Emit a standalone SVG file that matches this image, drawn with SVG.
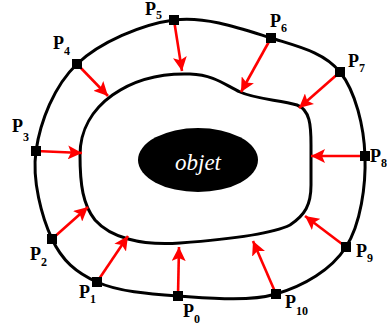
<svg xmlns="http://www.w3.org/2000/svg" width="387" height="329" viewBox="0 0 387 329">
<style>
.curve{fill:none;stroke:#000;stroke-width:3}
.arr{stroke:#ff0000;stroke-width:2.6;fill:none;marker-end:url(#ah)}
.pt{fill:#000}
.lbl{font-family:"Liberation Serif","Times New Roman",serif;font-weight:bold;font-size:18px;fill:#000}
.sub{font-size:12px}
.obj{font-family:"Liberation Serif","Times New Roman",serif;font-style:italic;font-size:23px;fill:#fff}
</style>
<defs>
<marker id="ah" markerUnits="userSpaceOnUse" markerWidth="16" markerHeight="14" refX="14" refY="7" orient="auto">
<path d="M0,0 L14,7 L0,14 L3,7 Z" fill="#ff0000"/>
</marker>
</defs>
<g id="outer">
<path class="curve" d="M178,296 C207.8,298 248,302.2 276,294 C304,285.8 331.2,270 346,247 C360.8,224 366,185.2 365,156 C364,126.8 355.7,91.7 340,72 C324.3,52.3 298.7,46.7 271,38 C243.3,29.3 206.3,15.7 174,20 C141.7,24.3 100,42.2 77,64 C54,85.8 40.2,121.8 36,151 C31.8,180.2 41.8,217.2 52,239 C62.2,260.8 76,272.5 97,282 C118,291.5 148.2,294 178,296 Z"/>
</g>
<g id="inner">
<path class="curve" d="M80,155 C80,105 130,72 190,74 C215,75 225,85 240,92 C255,99 280,100 297,105 C310,110 311,125 311,145 L311,185 C311,205 305,215 290,225 C270,235 220,240 180,243 C140,246 110,237 95,220 C83,205 80,185 80,155 Z"/>
</g>
<g id="objet">
<ellipse cx="198" cy="160" rx="60" ry="32" fill="#000"/>
<text class="obj" x="198" y="170" text-anchor="middle">objet</text>
</g>
<g id="connectors">
<line class="arr" x1="178" y1="296" x2="179" y2="247"/>
<line class="arr" x1="97" y1="282" x2="128" y2="236"/>
<line class="arr" x1="52" y1="239" x2="88" y2="207"/>
<line class="arr" x1="36" y1="151" x2="82" y2="153"/>
<line class="arr" x1="77" y1="64" x2="108" y2="96"/>
<line class="arr" x1="174" y1="20" x2="182" y2="71"/>
<line class="arr" x1="271" y1="38" x2="241" y2="92"/>
<line class="arr" x1="340" y1="72" x2="299" y2="108"/>
<line class="arr" x1="365" y1="156" x2="311" y2="156"/>
<line class="arr" x1="346" y1="247" x2="305" y2="216"/>
<line class="arr" x1="276" y1="294" x2="253" y2="241"/>
</g>
<g id="P0"><rect class="pt" x="173" y="291" width="10" height="10"/><text class="lbl" x="183" y="317">P<tspan class="sub" dy="6">0</tspan></text></g>
<g id="P1"><rect class="pt" x="92" y="277" width="10" height="10"/><text class="lbl" x="79" y="298">P<tspan class="sub" dy="5">1</tspan></text></g>
<g id="P2"><rect class="pt" x="47" y="234" width="10" height="10"/><text class="lbl" x="30" y="260">P<tspan class="sub" dy="6">2</tspan></text></g>
<g id="P3"><rect class="pt" x="31" y="146" width="10" height="10"/><text class="lbl" x="12" y="132">P<tspan class="sub" dy="9">3</tspan></text></g>
<g id="P4"><rect class="pt" x="72" y="59" width="10" height="10"/><text class="lbl" x="53" y="49">P<tspan class="sub" dy="6">4</tspan></text></g>
<g id="P5"><rect class="pt" x="169" y="15" width="10" height="10"/><text class="lbl" x="145" y="15">P<tspan class="sub" dy="4">5</tspan></text></g>
<g id="P6"><rect class="pt" x="266" y="33" width="10" height="10"/><text class="lbl" x="270" y="27">P<tspan class="sub" dy="5">6</tspan></text></g>
<g id="P7"><rect class="pt" x="335" y="67" width="10" height="10"/><text class="lbl" x="348" y="67">P<tspan class="sub" dy="5">7</tspan></text></g>
<g id="P8"><rect class="pt" x="360" y="151" width="10" height="10"/><text class="lbl" x="370" y="162">P<tspan class="sub" dy="5">8</tspan></text></g>
<g id="P9"><rect class="pt" x="341" y="242" width="10" height="10"/><text class="lbl" x="356" y="257">P<tspan class="sub" dy="5">9</tspan></text></g>
<g id="P10"><rect class="pt" x="271" y="289" width="10" height="10"/><text class="lbl" x="285" y="308">P<tspan class="sub" dy="7">10</tspan></text></g>
</svg>
